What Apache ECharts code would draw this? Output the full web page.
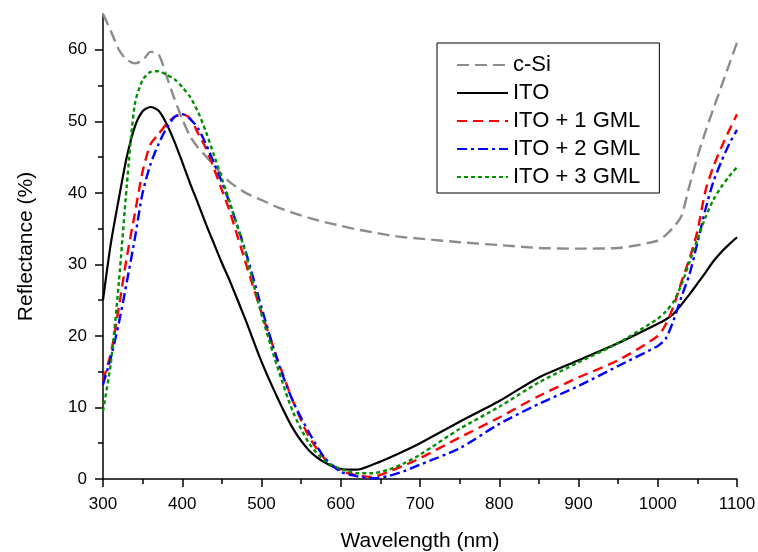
<!DOCTYPE html>
<html>
<head>
<meta charset="utf-8">
<script src="https://cdn.jsdelivr.net/npm/echarts@6/dist/echarts.min.js"></script>
<style>
html,body{margin:0;padding:0;background:#fff;}
#chart{width:758px;height:552px;}
</style>
</head>
<body>
<div id="chart"></div>
<script>
const wavelengths = [300,310,320,330,340,350,360,370,380,390,400,410,420,430,440,450,460,480,500,520,540,560,580,600,620,640,660,680,700,750,800,850,900,950,1000,1010,1020,1030,1040,1050,1060,1070,1080,1090,1100];
const seriesNames = ['c-Si','ITO','ITO + 1 GML','ITO + 2 GML','ITO + 3 GML'];
const cSi  = [65,62.6,60,58.6,58.1,58.5,59.7,59.4,56.4,53.2,50.3,47.9,46.3,45.1,43.8,42.6,41.5,40,39,38,37.2,36.5,35.9,35.4,34.9,34.5,34.1,33.8,33.6,33.1,32.7,32.3,32.2,32.3,33.3,34.1,35.2,36.8,41,45,48.5,51.7,54.8,57.9,61];
const ito  = [25,33,39.2,45,49.2,51.4,52,51.5,49.7,47.2,44.3,41.3,38.5,35.6,32.9,30.2,27.7,22.2,16.4,11.4,7.0,4.0,2.3,1.4,1.3,2.0,2.9,3.9,5.0,8.0,10.9,14.2,16.6,19.0,21.7,22.3,23.1,24.4,25.8,27.3,28.8,30.4,31.7,32.8,33.8];
const ito1 = [13.8,17.6,24,31,37,43,46.8,48.2,49.6,50.6,51,50.4,48.3,46.2,43.4,40.4,37.4,30.2,23.3,16.8,10.8,5.9,2.8,1.2,0.5,0.3,1.0,1.9,2.9,5.8,8.6,11.6,14.2,16.6,20.0,21.6,24.2,27.6,30.8,34.6,40.2,43.6,46.3,48.7,51];
const ito2 = [13.2,17,21.8,27.5,33.5,40,44,46.8,49,50.6,51,50.3,49,46.8,44.2,41.5,38.5,31.8,24,16.6,10.8,6.5,2.9,1.0,0.4,0.1,0.4,1.1,2.0,4.3,7.7,10.5,13.0,15.8,18.6,19.6,22.2,25.5,28.6,33,37.6,41.5,44.3,46.8,48.8];
const ito3 = [9.5,16.3,27.5,41,52.3,55.8,56.9,57,56.5,55.9,54.8,53.4,51.3,48.5,45.3,42,38.7,31.5,23,15.7,9.3,5,2.5,1.4,0.8,0.8,1.3,2.2,3.4,7.0,10.1,13.5,16.3,19.0,22.4,23.4,24.8,27.2,30.3,33.5,36.5,39,40.8,42.3,43.6];
const xTicks = [300,400,500,600,700,800,900,1000,1100];
const yMajorTicks = [0,10,20,30,40,50,60];
const yMinorTicks = [5,15,25,35,45,55];

const values = [cSi, ito, ito1, ito2, ito3];
const colors = ['#8c8c8c','#000000','#ff0000','#0000ff','#009000'];
const dashes = [[12,6],'solid',[10,6],[10,4,3,4],[4,3]];
const widths = [2.4,2.2,2.4,2.4,2.4];

const FONT = 'Liberation Sans, Arial, sans-serif';
const chart = echarts.init(document.getElementById('chart'));
chart.setOption({
  animation: false,
  backgroundColor: '#fff',
  grid: {left: 103, right: 21, top: 14, bottom: 73, containLabel: false, outerBoundsMode: 'none'},
  legend: {
    orient: 'vertical',
    left: 437, top: 43,
    padding: [11, 19, 5, 19],
    itemGap: 6,
    itemWidth: 51, itemHeight: 14,
    borderColor: '#000', borderWidth: 1,
    data: seriesNames,
    itemStyle: {opacity: 0, color: 'rgba(0,0,0,0)', borderWidth: 0},
    textStyle: {fontSize: 22, color: '#000', fontFamily: FONT}
  },
  xAxis: {
    type: 'value', min: 300, max: 1100, interval: 100,
    name: 'Wavelength (nm)', nameLocation: 'middle', nameGap: 52,
    nameTextStyle: {fontSize: 21, color: '#000', fontFamily: FONT},
    axisLine: {lineStyle: {color: '#000', width: 1.5}},
    axisTick: {show: true, inside: false, length: 8, lineStyle: {color: '#000', width: 1.5}},
    minorTick: {show: true, splitNumber: 2, length: 5, lineStyle: {color: '#000', width: 1.5}},
    axisLabel: {fontSize: 17, color: '#000', margin: 17, fontFamily: FONT, customValues: xTicks, formatter: v => String(v)},
    splitLine: {show: false}
  },
  yAxis: [{
    type: 'value', min: 0, max: 65, position: 'left',
    name: 'Reflectance (%)', nameLocation: 'middle', nameGap: 66,
    nameTextStyle: {fontSize: 21, color: '#000', fontFamily: FONT},
    axisLine: {show: true, lineStyle: {color: '#000', width: 1.5}},
    axisTick: {show: true, inside: false, length: 8, customValues: yMajorTicks, lineStyle: {color: '#000', width: 1.5}},
    axisLabel: {fontSize: 17, color: '#000', margin: 16, fontFamily: FONT, customValues: yMajorTicks, formatter: v => String(v)},
    splitLine: {show: false}
  }, {
    type: 'value', min: 0, max: 65, position: 'left',
    axisLine: {show: false},
    axisTick: {show: true, inside: false, length: 5, customValues: yMinorTicks, lineStyle: {color: '#000', width: 1.5}},
    axisLabel: {show: false},
    splitLine: {show: false}
  }],
  series: seriesNames.map((name, k) => ({
    name: name,
    type: 'line',
    yAxisIndex: 0,
    data: wavelengths.map((w, i) => [w, values[k][i]]),
    showSymbol: false,
    symbol: 'none',
    smooth: 0.25,
    clip: true,
    lineStyle: {color: colors[k], width: widths[k], type: dashes[k]},
    itemStyle: {color: colors[k]}
  }))
});
</script>
</body>
</html>
